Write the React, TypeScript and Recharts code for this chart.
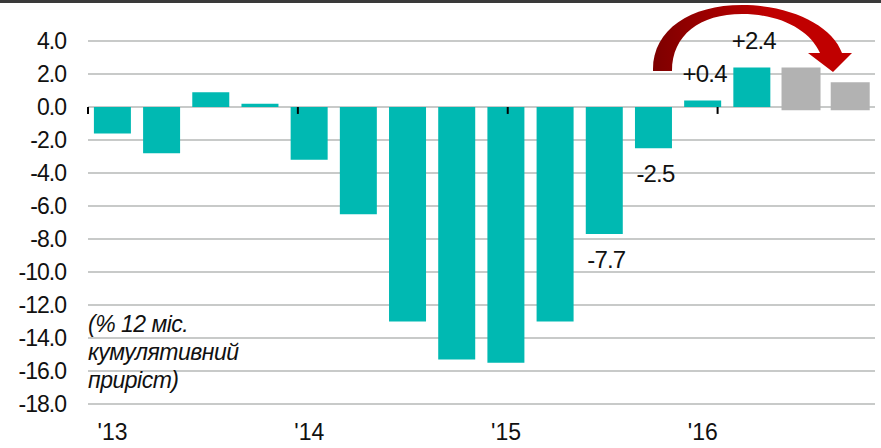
import React from 'react'
import { BarChart, Bar, XAxis, YAxis, CartesianGrid, ReferenceLine, LabelList, Rectangle } from 'recharts'

const FONT = '"Liberation Sans", Arial, sans-serif'
const TEAL = '#00b9b2'
const GRAY = '#b2b2b2'

// квартали 2013–2016
const quarters = [
  '2013 Q1', '2013 Q2', '2013 Q3', '2013 Q4',
  '2014 Q1', '2014 Q2', '2014 Q3', '2014 Q4',
  '2015 Q1', '2015 Q2', '2015 Q3', '2015 Q4',
  '2016 Q1', '2016 Q2', '2016 Q3', '2016 Q4',
]
const yearLabels = ["'13", '', '', '', "'14", '', '', '', "'15", '', '', '', "'16", '', '', '']
const growth = [-1.6, -2.8, 0.9, 0.2, -3.2, -6.5, -13.0, -15.3, -15.5, -13.0, -7.7, -2.5, 0.4, 2.4, 2.4, 1.5]
const isForecast = [false, false, false, false, false, false, false, false, false, false, false, false, false, false, true, true]
const forecastBase = -0.2
const valueLabels = ['', '', '', '', '', '', '', '', '', '', '-7.7', '-2.5', '+0.4', '+2.4', '', '']
const yTicks = [4, 2, 0, -2, -4, -6, -8, -10, -12, -14, -16, -18]
const yearBounds = [0, 4, 8, 12, 16]

const data = quarters.map((q, i) => ({
  q,
  forecast: isForecast[i],
  label: valueLabels[i],
  range: isForecast[i] ? [forecastBase, growth[i]] : [0, growth[i]],
}))

function renderBar(p: any) {
  const f = p.payload?.forecast
  return (
    <Rectangle x={f ? p.x - 1 : p.x} y={p.y} width={f ? p.width + 2 : p.width}
      height={p.height} fill={f ? GRAY : TEAL} />
  )
}

function renderValueLabel(props: any) {
  const vb = props.viewBox ?? props
  const value = props.value
  if (!value) return null
  const top = Math.min(vb.y, vb.y + vb.height)
  const bottom = Math.max(vb.y, vb.y + vb.height)
  const cx = vb.x + vb.width / 2 + 2
  const neg = String(value).startsWith('-')
  return (
    <text x={cx} y={neg ? bottom + 34 : top - 18} textAnchor="middle"
      fontFamily={FONT} fontSize={24} letterSpacing={-0.8} fill="#111">
      {value}
    </text>
  )
}

export default function App() {
  return (
    <div style={{ position: 'absolute', left: 0, top: 0, width: 881, height: 448, background: '#fff', overflow: 'hidden' }}>
      <BarChart width={881} height={448} data={data} barCategoryGap="12%"
        margin={{ top: 41, right: 6, bottom: 14, left: 0 }}>
        <CartesianGrid horizontal vertical={false} stroke="#c8cac9" strokeWidth={2} />
        <XAxis dataKey="q" interval={0} axisLine={false} tickLine={false} tickSize={0} tickMargin={20}
          height={30} tickFormatter={(_v: string, i: number) => yearLabels[i]}
          tick={{ fontSize: 23, fill: '#111', fontFamily: FONT }} />
        <XAxis xAxisId="n" type="number" domain={[0, 16]} hide />
        <YAxis domain={[-18, 4]} ticks={yTicks} interval={0} width={88} axisLine={false} tickLine={false}
          tickSize={0} tickMargin={22} tickFormatter={(v: number) => v.toFixed(1)}
          tick={{ fontSize: 23, fill: '#111', fontFamily: FONT, letterSpacing: -1 }} />
        <Bar dataKey="range" isAnimationActive={false} shape={renderBar}>
          <LabelList dataKey="label" content={renderValueLabel} />
        </Bar>
        <ReferenceLine xAxisId="n" segment={[{ x: 0, y: 0 }, { x: 16, y: 0 }]} stroke="#000" strokeWidth={2} />
        {yearBounds.map(b => (
          <ReferenceLine key={b} xAxisId="n" segment={[{ x: b, y: 0 }, { x: b, y: -0.42 }]}
            stroke="#000" strokeWidth={2} />
        ))}
      </BarChart>

      {/* верхня лінія, стрілка та підпис */}
      <svg width={881} height={448} style={{ position: 'absolute', left: 0, top: 0, pointerEvents: 'none' }}>
        <defs>
          <linearGradient id="arrowGrad" x1="653" y1="0" x2="770" y2="0" gradientUnits="userSpaceOnUse">
            <stop offset="0" stopColor="#7d0000" />
            <stop offset="1" stopColor="#c00000" />
          </linearGradient>
        </defs>
        <rect x={0} y={0} width={881} height={3} fill="#3a3a3a" />
        <path
          d="M 653 71 C 652 30, 690 5, 742 5 C 790 5, 832 25, 842 53 L 852 53 L 833 72 L 808 53 L 820 53 C 810 30, 780 14, 742 14 C 700 14, 672 35, 672 71 Z"
          fill="url(#arrowGrad)" />
        <g fontFamily={FONT} fontSize={23} fontStyle="italic" fill="#111" letterSpacing={-0.5}>
          <text x={88} y={332}>(% 12 міс.</text>
          <text x={88} y={360}>кумулятивний</text>
          <text x={88} y={388}>приріст)</text>
        </g>
      </svg>
    </div>
  )
}
